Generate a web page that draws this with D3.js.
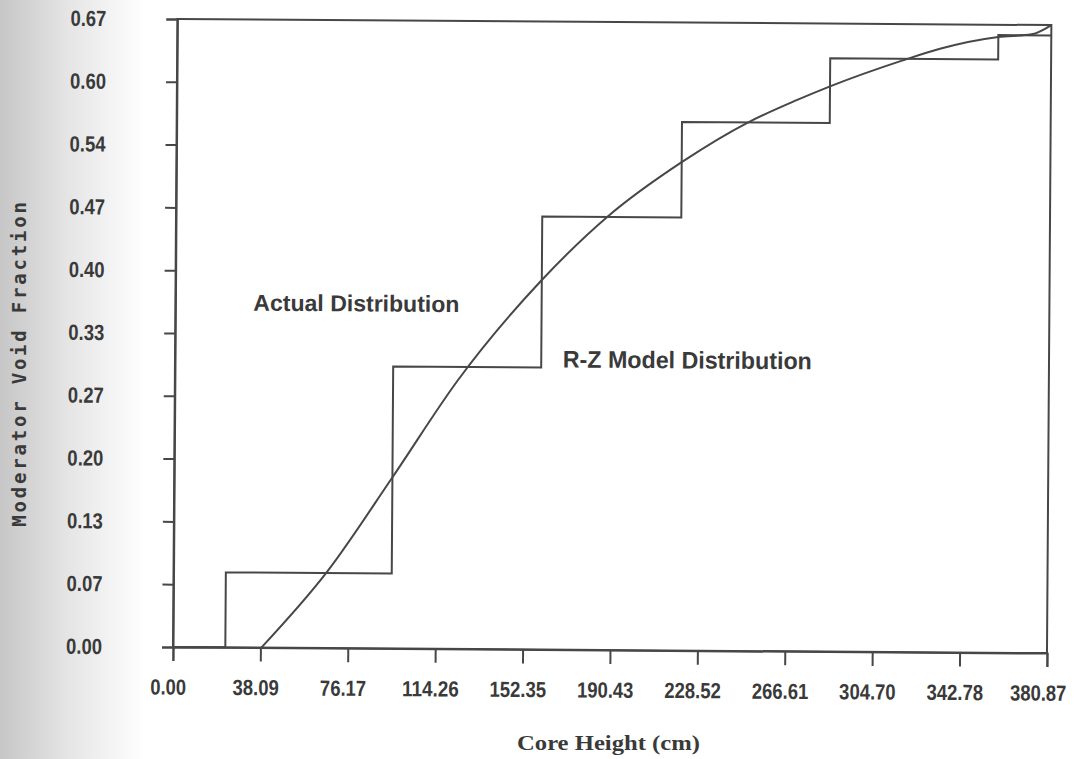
<!DOCTYPE html>
<html>
<head>
<meta charset="utf-8">
<script src="https://cdn.jsdelivr.net/npm/d3@7"></script>
<style>
body{margin:0;background:#fff;}
</style>
</head>
<body>
<div id="plot"></div>
<script>
//Set Height and Width Vars;
const w=1078;
const h=759;
const originX=173;
const originY=647;
const plotW=874;
const plotH=628;

//Axis ticks;
const xTicks=[0,38.09,76.17,114.26,152.35,190.43,228.52,266.61,304.70,342.78,380.87];
const xTickLabels=["0.00","38.09","76.17","114.26","152.35","190.43","228.52","266.61","304.70","342.78","380.87"];
const yTicks=[0,0.067,0.134,0.201,0.268,0.335,0.402,0.469,0.536,0.603,0.67];
const yTickLabels=["0.00","0.07","0.13","0.20","0.27","0.33","0.40","0.47","0.54","0.60","0.67"];

//R-Z model (step) distribution;
const stepX=[0,22.8,95.1,159.6,220.2,284.6,357.8,380.87];
const stepY=[0,0.080,0.301,0.462,0.564,0.633,0.659,0.659];

//Actual distribution (curve);
const curveX=[38.5,66.8,95.2,123.4,159.5,187.9,220.2,249.1,270.1,284.6,315.9,332.4,357.8,372.3,380.87];
const curveY=[0,0.081,0.183,0.287,0.394,0.462,0.521,0.564,0.588,0.603,0.631,0.644,0.657,0.660,0.670];

const ink="#474747";
const textInk="#3a3a3a";
const plotFont="'Liberation Sans',Arial,sans-serif";

//Width of a plotter-style label;
const labelWidth=function(s){
  let n=0;
  for(let i=0;i<s.length;i++){
    n+= (s[i]==="." ? 5 : 10.3);
  }
  return n;
};

//Initialize SVG;
const svg=d3.select("#plot")
  .append("svg")
    .attr("width",w)
    .attr("height",h);

//Scan shadow on left edge;
const grad=svg.append("defs")
  .append("linearGradient")
    .attr("id","shade")
    .attr("x1","0").attr("x2","1").attr("y1","0").attr("y2","0");
grad.append("stop").attr("offset","0").attr("stop-color","#c6c6c6");
grad.append("stop").attr("offset","0.45").attr("stop-color","#e4e4e4");
grad.append("stop").attr("offset","1").attr("stop-color","#ffffff");

svg.append("rect")
  .attr("x",0).attr("y",0)
  .attr("width",145).attr("height",h)
  .attr("fill","url(#shade)");

//Scales;
const xScale=d3.scaleLinear().domain([0,380.87]).range([0,plotW]);
const yScale=d3.scaleLinear().domain([0,0.67]).range([0,-plotH]);

//Plot group (page is slightly rotated in the scan);
const g=svg.append("g")
  .attr("transform","translate("+originX+","+originY+") rotate(0.4)");

//Frame;
g.append("rect")
  .attr("x",xScale(0))
  .attr("y",yScale(0.67))
  .attr("width",xScale(380.87)-xScale(0))
  .attr("height",yScale(0)-yScale(0.67))
  .attr("fill","none")
  .attr("stroke",ink)
  .attr("stroke-width",2);

//Axes;
const xAxis=d3.axisBottom(xScale)
  .tickValues(xTicks)
  .tickFormat(function(d,i){return xTickLabels[i];})
  .tickSizeOuter(0)
  .tickSize(14)
  .tickPadding(18);

const yAxis=d3.axisLeft(yScale)
  .tickValues(yTicks)
  .tickFormat(function(d,i){return yTickLabels[i];})
  .tickSizeOuter(0)
  .tickSize(11)
  .tickPadding(60);

const gx=g.append("g").attr("class","axis").call(xAxis);
const gy=g.append("g").attr("class","axis").call(yAxis);

[gx,gy].forEach(function(a){
  a.select(".domain").attr("stroke",ink).attr("stroke-width",2);
  a.selectAll(".tick line").attr("stroke",ink).attr("stroke-width",2);
  a.selectAll(".tick text")
    .attr("fill",textInk)
    .attr("font-family",plotFont)
    .attr("font-weight","bold")
    .attr("font-size","22px")
    .attr("lengthAdjust","spacingAndGlyphs")
    .attr("textLength",function(){return labelWidth(d3.select(this).text());});
});
gx.selectAll(".tick text").attr("dx",function(d,i){
  return i===xTicks.length-1 ? "-9px" : "-5px";
});

//Step line;
const stepData=stepX.map(function(d,i){return [d,stepY[i]];});
g.append("path")
  .datum(stepData)
  .attr("fill","none")
  .attr("stroke",ink)
  .attr("stroke-width",2)
  .attr("d",d3.line()
    .x(function(d){return xScale(d[0]);})
    .y(function(d){return yScale(d[1]);})
    .curve(d3.curveStepAfter));

//Curve;
const curveData=curveX.map(function(d,i){return [d,curveY[i]];});
g.append("path")
  .datum(curveData)
  .attr("fill","none")
  .attr("stroke",ink)
  .attr("stroke-width",2)
  .attr("d",d3.line()
    .x(function(d){return xScale(d[0]);})
    .y(function(d){return yScale(d[1]);})
    .curve(d3.curveMonotoneX));

//Annotations;
g.append("text")
  .text("Actual Distribution")
  .attr("x",xScale(34))
  .attr("y",yScale(0.368))
  .attr("dy","0.35em")
  .attr("font-family",plotFont)
  .attr("font-weight","bold")
  .attr("font-size","23px")
  .attr("lengthAdjust","spacingAndGlyphs")
  .attr("textLength",206)
  .attr("fill",textInk);

g.append("text")
  .text("R-Z Model Distribution")
  .attr("x",xScale(169))
  .attr("y",yScale(0.31))
  .attr("dy","0.35em")
  .attr("font-family",plotFont)
  .attr("font-weight","bold")
  .attr("font-size","24px")
  .attr("lengthAdjust","spacingAndGlyphs")
  .attr("textLength",249)
  .attr("fill",textInk);

//Axis titles;
svg.append("text")
  .text("Core Height (cm)")
  .attr("x",517)
  .attr("y",742)
  .attr("dy","0.35em")
  .attr("font-family","'Liberation Serif',serif")
  .attr("font-weight","bold")
  .attr("font-size","22px")
  .attr("lengthAdjust","spacingAndGlyphs")
  .attr("textLength",183)
  .attr("fill",textInk);

svg.append("text")
  .text("Moderator Void Fraction")
  .attr("transform","translate(19,363) rotate(-90)")
  .attr("dy","0.35em")
  .attr("text-anchor","middle")
  .attr("font-family","'DejaVu Sans Mono','Liberation Mono',monospace")
  .attr("font-weight","bold")
  .attr("font-size","19px")
  .attr("letter-spacing","2.8px")
  .attr("fill",textInk);
</script>
</body>
</html>
